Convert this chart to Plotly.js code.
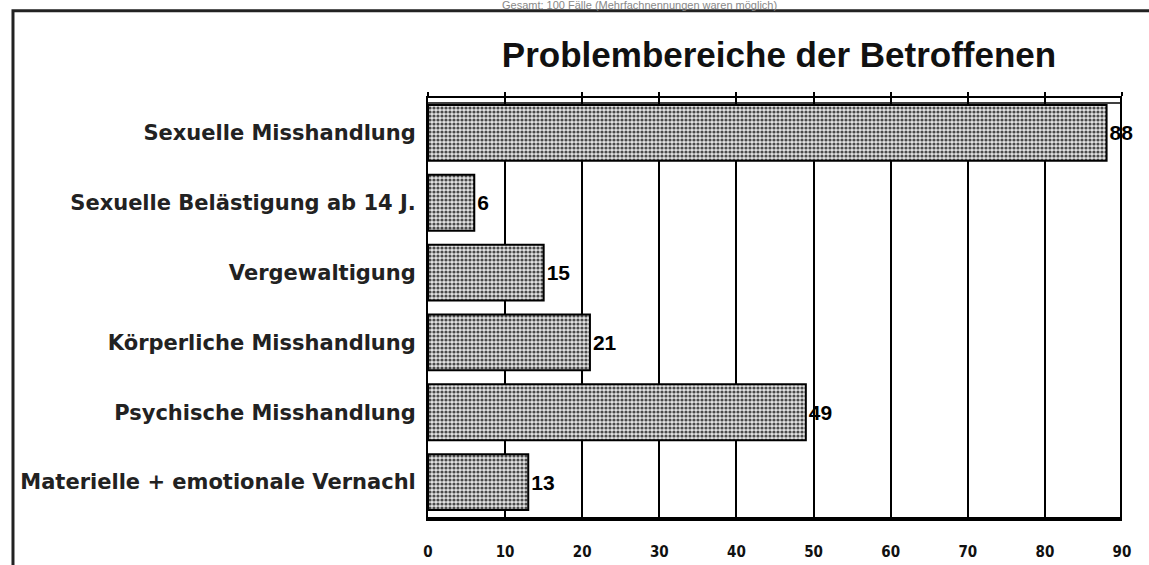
<!DOCTYPE html>
<html>
<head>
<meta charset="utf-8">
<script src="https://cdn.plot.ly/plotly-3.0.1.min.js"></script>
<style>
html,body{margin:0;padding:0;background:#fff;}
#chart{width:1149px;height:565px;}
</style>
</head>
<body>
<div id="chart"></div>
<script>
const categories = [
  "Sexuelle Misshandlung",
  "Sexuelle Belästigung ab 14 J.",
  "Vergewaltigung",
  "Körperliche Misshandlung",
  "Psychische Misshandlung",
  "Materielle + emotionale Vernachl"
];
const values = [88, 6, 15, 21, 49, 13];
const xTicks = [0, 10, 20, 30, 40, 50, 60, 70, 80, 90];
const titleText = "Problembereiche der Betroffenen";
const topNote = "Gesamt: 100 Fälle (Mehrfachnennungen waren möglich)";

const narrow = "Liberation Sans Narrow, DejaVu Sans Condensed, Arial Narrow, sans-serif";

const trace = {
  type: "bar",
  orientation: "h",
  x: values,
  y: categories,
  text: values.map(String),
  textposition: "outside",
  cliponaxis: false,
  textfont: {family: "Liberation Sans, Arial, sans-serif", size: 21, color: "#000", weight: "bold"},
  marker: {
    color: "#c0c0c0",
    line: {color: "#000", width: 2},
    pattern: {shape: ".", fgcolor: "#4a4a4a", bgcolor: "#e2e2e2", size: 4, solidity: 0.5}
  },
  hoverinfo: "skip"
};

const topAxisTrace = {
  type: "scatter", x: [], y: [], xaxis: "x2", yaxis: "y", showlegend: false, hoverinfo: "skip"
};

const layout = {
  width: 1149, height: 565,
  margin: {l: 428, r: 27, t: 98, b: 48},
  paper_bgcolor: "#fff", plot_bgcolor: "#fff",
  showlegend: false,
  bargap: 0.2,
  title: {
    text: titleText,
    font: {family: "Liberation Sans, Arial, sans-serif", size: 35, color: "#111", weight: "bold"},
    xref: "container", yref: "container",
    x: 0.678, xanchor: "center", y: 0.903, yanchor: "middle"
  },
  xaxis: {
    range: [0, 90], tickvals: xTicks, ticktext: xTicks.map(String),
    showgrid: true, gridcolor: "#000", gridwidth: 2,
    zeroline: false,
    showline: true, linecolor: "#000", linewidth: 4,
    ticks: "", ticklabelstandoff: 18,
    tickfont: {family: narrow, size: 15, color: "#111", weight: "bold"},
    fixedrange: true
  },
  xaxis2: {
    overlaying: "x", side: "top", matches: "x", range: [0, 90], tickvals: xTicks,
    showgrid: false, zeroline: false, showticklabels: false,
    ticks: "outside", ticklen: 4, tickwidth: 2, tickcolor: "#000",
    showline: true, linecolor: "#000", linewidth: 2
  },
  yaxis: {
    autorange: "reversed",
    showgrid: false, zeroline: false,
    showline: true, linecolor: "#000", linewidth: 2,
    ticks: "", ticklabelstandoff: 6,
    tickfont: {family: "DejaVu Sans, sans-serif", size: 21, color: "#222", weight: "bold"},
    fixedrange: true
  },
  shapes: [
    {type: "line", xref: "x", yref: "paper", x0: 90, x1: 90, y0: 0, y1: 1, line: {color: "#000", width: 4}},
    {type: "line", xref: "paper", yref: "paper", x0: 0, x1: 1, y0: 0.988, y1: 0.988, line: {color: "#000", width: 1.5}, layer: "below"},
    {type: "rect", xref: "paper", yref: "paper", x0: -0.598, x1: 1.06, y0: -0.15, y1: 1.208, line: {color: "#222", width: 3}, fillcolor: "rgba(0,0,0,0)"}
  ],
  annotations: [
    {text: topNote, xref: "paper", yref: "paper", x: 0.305, y: 1.222, xanchor: "center", yanchor: "middle",
     showarrow: false, font: {family: "Liberation Sans, Arial, sans-serif", size: 11, color: "#888"}}
  ]
};

Plotly.newPlot("chart", [trace, topAxisTrace], layout, {displayModeBar: false, staticPlot: true});
</script>
</body>
</html>
